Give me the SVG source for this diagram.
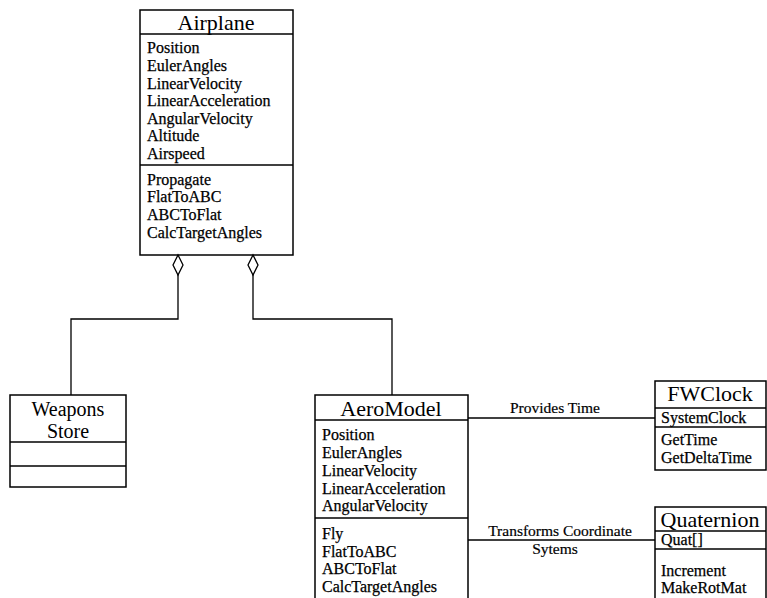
<svg xmlns="http://www.w3.org/2000/svg" width="767" height="598" viewBox="0 0 767 598">
<style>
.box{fill:none;stroke:#000;stroke-width:1.5}
.ln{fill:none;stroke:#000;stroke-width:1.3}
.t{font-family:"Liberation Serif","Times New Roman",serif;font-size:22px;fill:#000;text-anchor:middle}
.ws{font-size:20px}
.a{font-family:"Liberation Serif","Times New Roman",serif;font-size:16px;fill:#000;stroke:#000;stroke-width:0.25}
.lb{font-family:"Liberation Serif","Times New Roman",serif;font-size:15.5px;fill:#000;stroke:#000;stroke-width:0.2;text-anchor:middle}
</style>
<rect width="767" height="598" fill="#fff"/>
<g id="connectors">
<path class="ln" d="M178,274 V319 H71 V395"/>
<path class="ln" d="M253,274 V319 H392 V395"/>
<polygon class="ln" fill="#fff" points="178,255 183,265 178,275 173,265"/>
<polygon class="ln" fill="#fff" points="253,255 258,265 253,275 248,265"/>
<path class="ln" d="M468,418 H655"/>
<text class="lb" x="555" y="413">Provides Time</text>
<path class="ln" d="M468,540 H655"/>
<text class="lb" x="560" y="536">Transforms Coordinate</text>
<text class="lb" x="555" y="554">Sytems</text>
</g>
<g id="airplane">
<rect class="box" x="140" y="10" width="153" height="245"/>
<line class="box" x1="140" y1="34" x2="293" y2="34"/>
<line class="box" x1="140" y1="165" x2="293" y2="165"/>
<text class="t" x="216" y="30">Airplane</text>
<text class="a" x="147" y="53">Position</text>
<text class="a" x="147" y="71">EulerAngles</text>
<text class="a" x="147" y="89">LinearVelocity</text>
<text class="a" x="147" y="106">LinearAcceleration</text>
<text class="a" x="147" y="124">AngularVelocity</text>
<text class="a" x="147" y="141">Altitude</text>
<text class="a" x="147" y="159">Airspeed</text>
<text class="a" x="147" y="185">Propagate</text>
<text class="a" x="147" y="202">FlatToABC</text>
<text class="a" x="147" y="220">ABCToFlat</text>
<text class="a" x="147" y="238">CalcTargetAngles</text>
</g>
<g id="weapons-store">
<rect class="box" x="10" y="395" width="116" height="92"/>
<line class="box" x1="10" y1="442" x2="126" y2="442"/>
<line class="box" x1="10" y1="466" x2="126" y2="466"/>
<text class="t ws" x="68" y="416">Weapons</text>
<text class="t ws" x="68" y="438">Store</text>
</g>
<g id="aeromodel">
<path class="box" d="M315,600 V395 H468 V600"/>
<line class="box" x1="315" y1="420" x2="468" y2="420"/>
<line class="box" x1="315" y1="518" x2="468" y2="518"/>
<text class="t" x="391" y="416">AeroModel</text>
<text class="a" x="322" y="440">Position</text>
<text class="a" x="322" y="458">EulerAngles</text>
<text class="a" x="322" y="476">LinearVelocity</text>
<text class="a" x="322" y="494">LinearAcceleration</text>
<text class="a" x="322" y="511">AngularVelocity</text>
<text class="a" x="322" y="539">Fly</text>
<text class="a" x="322" y="557">FlatToABC</text>
<text class="a" x="322" y="574">ABCToFlat</text>
<text class="a" x="322" y="592">CalcTargetAngles</text>
</g>
<g id="fwclock">
<rect class="box" x="655" y="381" width="111" height="89"/>
<line class="box" x1="655" y1="408" x2="766" y2="408"/>
<line class="box" x1="655" y1="427" x2="766" y2="427"/>
<text class="t" x="710" y="401">FWClock</text>
<text class="a" x="661" y="423">SystemClock</text>
<text class="a" x="661" y="445">GetTime</text>
<text class="a" x="661" y="463">GetDeltaTime</text>
</g>
<g id="quaternion">
<path class="box" d="M655,600 V507 H766 V600"/>
<line class="box" x1="655" y1="531" x2="766" y2="531"/>
<line class="box" x1="655" y1="549" x2="766" y2="549"/>
<text class="t" x="710" y="527">Quaternion</text>
<text class="a" x="661" y="545">Quat[]</text>
<text class="a" x="661" y="576">Increment</text>
<text class="a" x="661" y="593">MakeRotMat</text>
</g>
</svg>
